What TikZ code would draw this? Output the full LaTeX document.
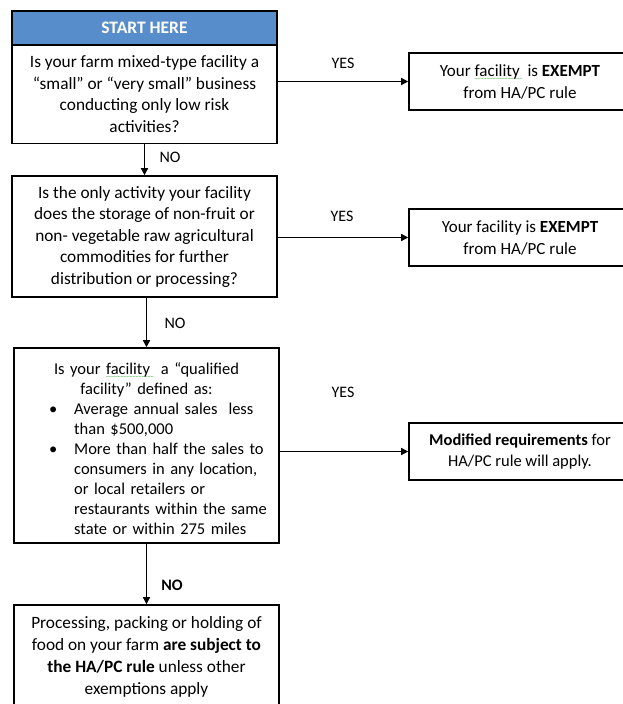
\documentclass[tikz,border=0pt]{standalone}
\usepackage{fontspec}
\setmainfont{Carlito}
\usetikzlibrary{positioning,arrows.meta}

\definecolor{headblue}{RGB}{88,141,203}
\definecolor{spellgreen}{RGB}{60,170,60}
\newsavebox{\squigbox}
\newcommand{\squig}[1]{\sbox{\squigbox}{#1}\rlap{\raisebox{-4.5pt}{\color{spellgreen}\fontsize{6}{6}\selectfont\hbox to \wd\squigbox{\leaders\hbox{\char"7E}\hfil}}}\usebox{\squigbox}}

\begin{document}
\begin{tikzpicture}[x=1pt, y=-1pt, line width=1.4pt,
    box/.style = {draw, line width=1.6pt, minimum width=265pt, align=center, inner sep=0pt, font=\fontsize{17.3}{21.5}\selectfont},
    side/.style = {draw, line width=1.6pt, minimum width=222pt, minimum height=57pt, align=center, inner sep=0pt, font=\fontsize{17}{22}\selectfont},
    tag/.style = {font=\fontsize{16}{20}\selectfont},
    arr/.style = {-{Triangle[length=7pt,width=7pt]}}]
  \useasboundingbox (0,0) rectangle (622,704);

  % main column
  \node[box, fill=headblue, text=white, minimum height=34pt, font=\bfseries\fontsize{17.5}{20}\selectfont] (head) at (144.5,28) {START HERE};
  \node[box, minimum height=99pt] (q1) at (144.5,94) {Is your farm mixed-type facility a\\ “small” or “very small” business\\ conducting only low risk\\ activities?};
  \node[box, minimum height=121pt] (q2) at (144.5,236.5) {Is the only activity your facility\\ does the storage of non-fruit or\\ non- vegetable raw agricultural\\ commodities for further\\ distribution or processing?};
  \node[box, minimum height=195pt, text width=262pt, font=\fontsize{16.5}{20}\selectfont] (q3) at (146.5,445.5) {\rule{0pt}{23pt}Is your \squig{facility\ } a “qualified\\ facility” defined as:\\
    \begin{tabular}[t]{@{\hspace{23pt}}p{25pt}@{}l@{}}
      \textbullet & Average annual sales\ \ less\\
                  & than \$500,000\\
      \textbullet & More than half the sales to\\
                  & consumers in any location,\\
                  & or local retailers or\\
                  & restaurants within the same\\
                  & state or within 275 miles
    \end{tabular}};
  \node[box, minimum height=103pt, font=\fontsize{17.3}{22}\selectfont] (q4) at (146.5,656.5) {Processing, packing or holding of\\ food on your farm \textbf{are subject to}\\ \textbf{the HA/PC rule} unless other\\ exemptions apply};

  % outcomes
  \node[side] (r1) at (520,81.5) {Your \squig{facility\ } is \textbf{EXEMPT}\\ from HA/PC rule};
  \node[side] (r2) at (520,237.5) {Your facility is \textbf{EXEMPT}\\ from HA/PC rule};
  \node[side, font=\fontsize{16.5}{21}\selectfont] (r3) at (520,451.5) {\textbf{Modified requirements} for\\ HA/PC rule will apply.};

  % labels
  \node[tag] (y1) at (343,63) {YES};
  \node[tag] (y2) at (342,216) {YES};
  \node[tag] (y3) at (343,392) {YES};
  \node[tag] (n1) at (170,157) {NO};
  \node[tag] (n2) at (175,323) {NO};
  \node[tag, font=\bfseries\fontsize{16}{20}\selectfont] (n3) at (172,585) {NO};

  \draw[arr] (q1.east |- r1.west) -- (r1.west);
  \draw[arr] (q2.east |- r2.west) -- (r2.west);
  \draw[arr] (q3.east |- r3.west) -- (r3.west);
  \draw[arr] (q1.south) -- (head.south |- q2.north);
  \draw[arr] (q3.north |- q2.south) -- (q3.north);
  \draw[arr] (q3.south) -- (q4.north);
\end{tikzpicture}
\end{document}
